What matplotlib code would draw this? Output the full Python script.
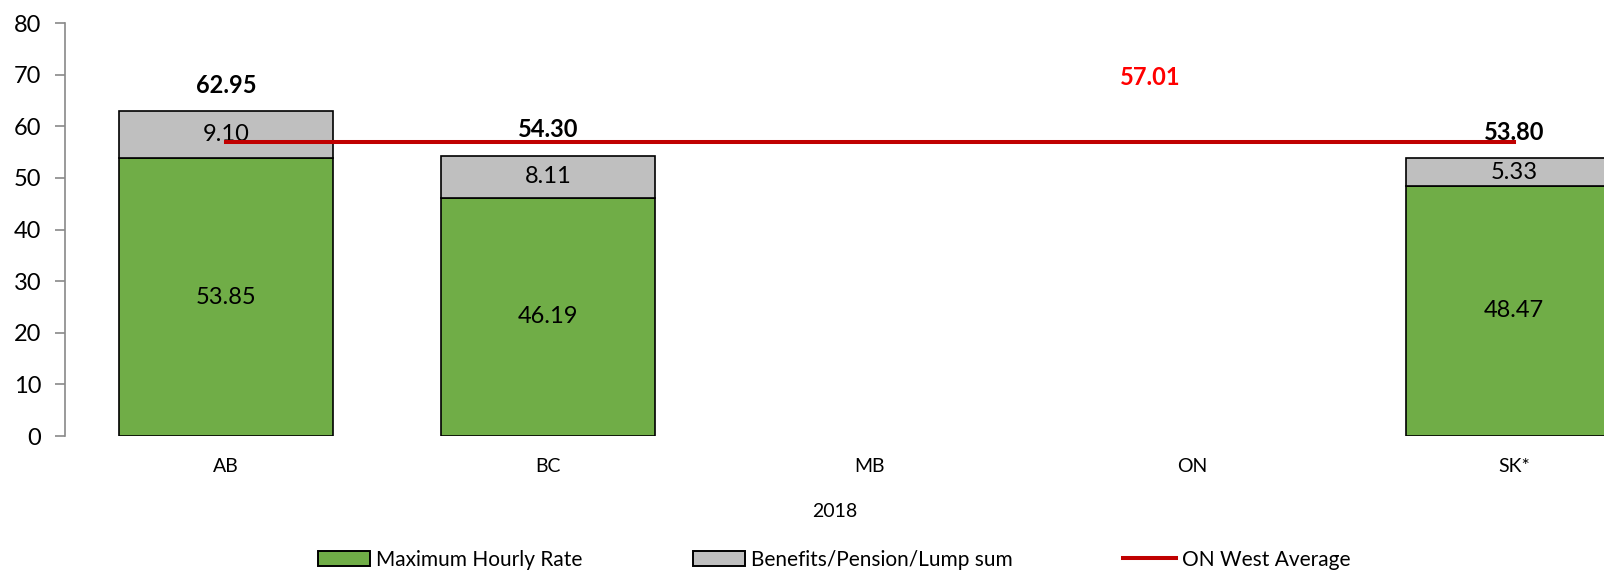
import numpy as np
import matplotlib.pyplot as plt
from matplotlib.patches import Patch
from matplotlib.lines import Line2D

plt.rcParams['font.family'] = ['Lato', 'DejaVu Sans']

# data
provinces = ['AB', 'BC', 'MB', 'ON', 'SK*']
hourly_rate = [53.85, 46.19, np.nan, np.nan, 48.47]
benefits = [9.10, 8.11, np.nan, np.nan, 5.33]
totals = [62.95, 54.30, np.nan, np.nan, 53.80]
west_avg = 57.01
year_label = '2018'

green = '#70AD47'
grey = '#BFBFBF'
red = '#C00000'

fig = plt.figure(figsize=(16.04, 5.74), dpi=100)
ax = fig.add_axes([0.0405, 0.2404, 0.9595, 0.7195])

x = np.arange(len(provinces))
w = 0.667
ax.bar(x, hourly_rate, w, color=green, edgecolor='black', linewidth=1.2, zorder=2)
ax.bar(x, benefits, w, bottom=hourly_rate, color=grey, edgecolor='black', linewidth=1.2, zorder=2)

# average line from first to last province
ax.plot([x[0], x[-1]], [west_avg, west_avg], color=red, lw=2.9, zorder=3)

for i in range(len(provinces)):
    if np.isnan(totals[i]):
        continue
    ax.text(x[i], hourly_rate[i] / 2, '%.2f' % hourly_rate[i], ha='center', va='center', fontsize=17)
    ax.text(x[i], hourly_rate[i] + benefits[i] / 2, '%.2f' % benefits[i], ha='center', va='center', fontsize=17, zorder=2.5)
    ax.text(x[i], totals[i] + 5.0, '%.2f' % totals[i], ha='center', va='center', fontsize=17, fontweight='bold', zorder=4)

ax.text(2.87, 69.4, '%.2f' % west_avg, ha='center', va='center', fontsize=17, fontweight='bold', color='#FF0000')

ax.set_ylim(0, 80)
ax.set_yticks(np.arange(0, 81, 10))
ax.set_xlim(-0.5, 4.28)
ax.set_xticks(x)
ax.set_xticklabels(provinces, fontsize=14)
ax.tick_params(axis='y', labelsize=17, length=7, color='#898989', width=1.2, pad=10)
ax.tick_params(axis='x', length=0, pad=16)
ax.set_xlabel(year_label, fontsize=14, labelpad=20)

for s in ['top', 'right', 'bottom']:
    ax.spines[s].set_visible(False)
ax.spines['left'].set_color('#898989')
ax.spines['left'].set_linewidth(1.2)

handles = [Patch(facecolor=green, edgecolor='black', linewidth=1.4, label='Maximum Hourly Rate'),
           Patch(facecolor=grey, edgecolor='black', linewidth=1.4, label='Benefits/Pension/Lump sum'),
           Line2D([], [], color=red, lw=2.9, label='ON West Average')]
fig.legend(handles=handles, loc='center', bbox_to_anchor=(0.52, 0.025), ncol=3, frameon=False,
           fontsize=15, handlelength=2.5, handleheight=0.7, handletextpad=0.3, columnspacing=5.3)

fig.savefig('out.png', dpi=100)
